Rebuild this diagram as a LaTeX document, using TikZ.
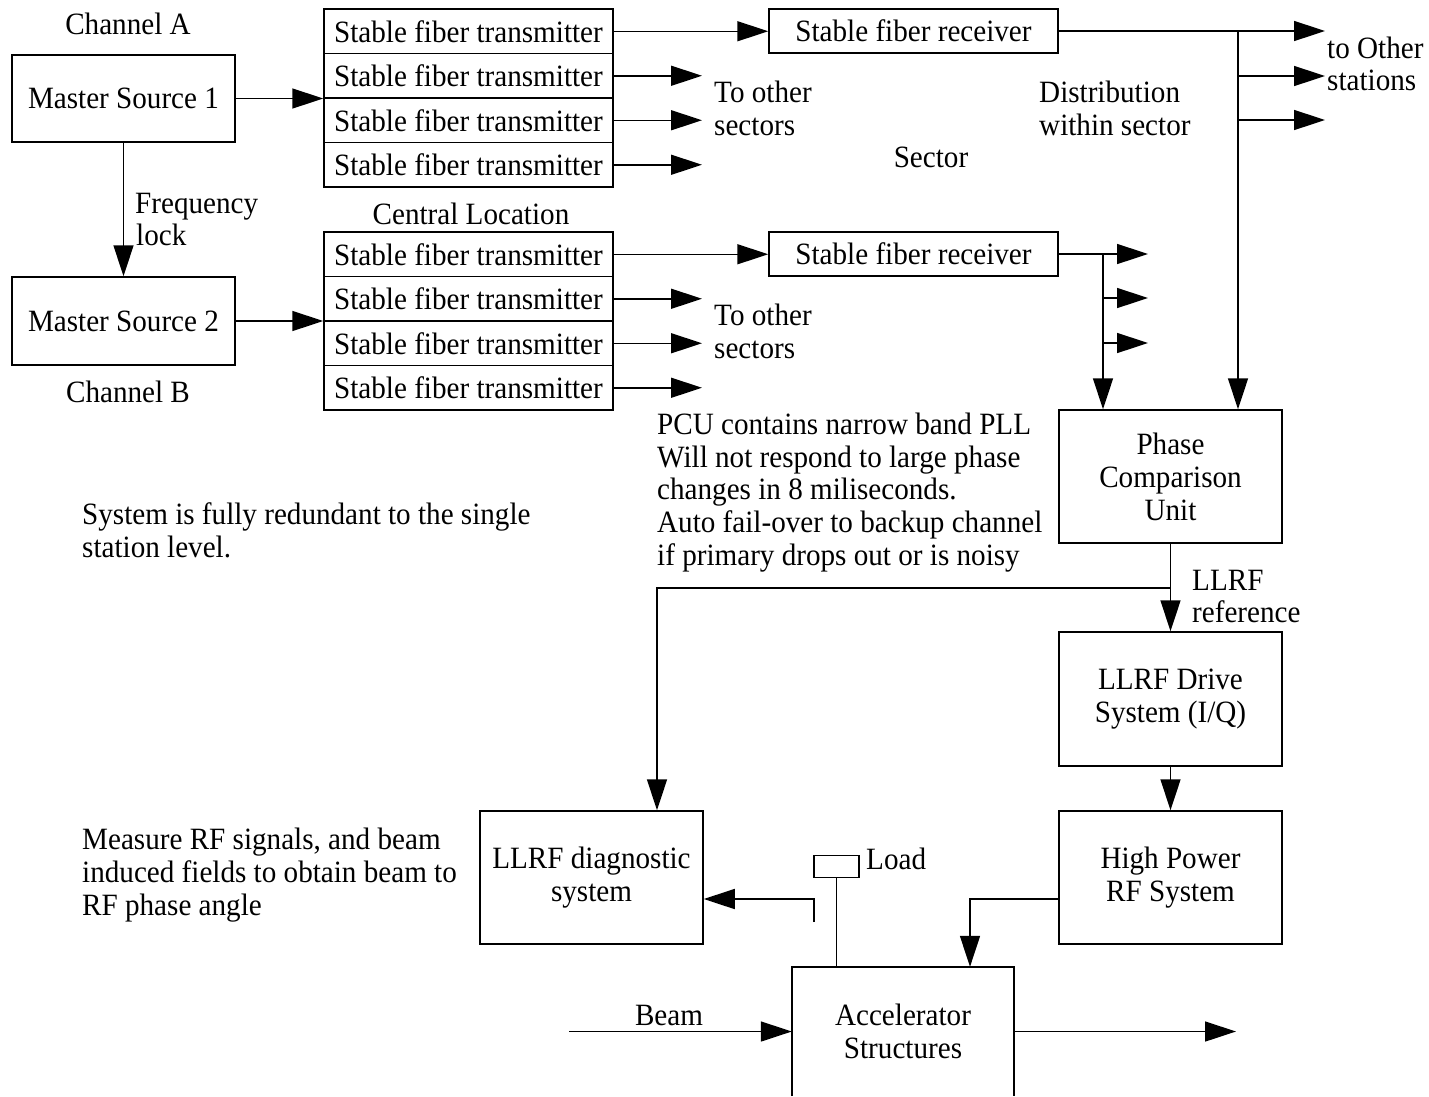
\documentclass[tikz,border=0pt]{standalone}
\usepackage{fontspec}
\setmainfont{Liberation Serif}[FakeStretch=0.94]
\usetikzlibrary{arrows.meta}
\tikzset{
  every node/.style={font=\fontsize{31pt}{33pt}\selectfont},
  box/.style={draw, line width=1.5pt, inner sep=0pt, align=center},
  txbox/.style={box, minimum width=289pt, minimum height=44.5pt},
  bigbox/.style={box, minimum width=223pt},
  lbl/.style={inner sep=0pt, anchor=base west},
  conn/.style={line width=1.5pt},
  arr/.style={conn, -{Triangle[length=31pt,width=20pt]}},
}
\begin{document}
\begin{tikzpicture}[x=1pt,y=-1pt]
\useasboundingbox[fill=white] (0,0) rectangle (1429,1096);
% master sources
\node[bigbox, minimum height=87pt] (ms1) at (123.5,98.5) {Master Source 1};
\node[bigbox, minimum height=88pt] (ms2) at (123.5,321) {Master Source 2};
% transmitter stacks
\node[txbox] (txA1) at (468.5,31.25) {Stable fiber transmitter};
\node[txbox] (txA2) at (468.5,75.75) {Stable fiber transmitter};
\node[txbox] (txA3) at (468.5,120.25) {Stable fiber transmitter};
\node[txbox] (txA4) at (468.5,164.75) {Stable fiber transmitter};
\node[txbox] (txB1) at (468.5,254.25) {Stable fiber transmitter};
\node[txbox] (txB2) at (468.5,298.75) {Stable fiber transmitter};
\node[txbox] (txB3) at (468.5,343.25) {Stable fiber transmitter};
\node[txbox] (txB4) at (468.5,387.75) {Stable fiber transmitter};
% receivers
\node[box, minimum width=289pt, minimum height=44pt] (rxA) at (913.5,31) {Stable fiber receiver};
\node[box, minimum width=289pt, minimum height=44pt] (rxB) at (913.5,254) {Stable fiber receiver};
% station boxes
\node[bigbox, minimum height=133pt] (pcu) at (1170.5,476.5) {Phase\\Comparison\\Unit};
\node[bigbox, minimum height=134pt] (drv) at (1170.5,699) {LLRF Drive\\System (I/Q)};
\node[bigbox, minimum height=133pt] (hp) at (1170.5,877.5) {High Power\\RF System};
\node[bigbox, minimum height=133pt] (diag) at (591.5,877.5) {LLRF diagnostic\\system};
\node[box, minimum width=45pt, minimum height=22pt] (load) at (836.5,866.5) {};
\node[inner sep=0pt, align=center, minimum width=222pt, minimum height=129pt] (acc) at (903,1031.5) {Accelerator\\Structures};
\draw[conn] (acc.south west) -- (acc.north west) -- (acc.north east) -- (acc.south east);
% free ends
\coordinate (eA2) at (702,75.75);
\coordinate (eA3) at (702,120.25);
\coordinate (eA4) at (702,164.75);
\coordinate (eB2) at (702,298.75);
\coordinate (eB3) at (702,343.25);
\coordinate (eB4) at (702,387.75);
\coordinate (dA) at (1238,31);
\coordinate (sA1) at (1325,31);
\coordinate (sA2) at (1325,76);
\coordinate (sA3) at (1325,120);
\coordinate (dB) at (1103,254);
\coordinate (sB1) at (1148,254);
\coordinate (sB2) at (1148,298);
\coordinate (sB3) at (1148,343);
\coordinate (br) at (1170.5,588);
\coordinate (dg) at (657,588);
\coordinate (lf) at (814,922);
\coordinate (bin) at (569,1031.5);
\coordinate (bout) at (1236,1031.5);
% connectors
\draw[arr] (ms1.east) -- (ms1.east -| txA2.west);
\draw[arr] (ms1.south) -- (ms2.north);
\draw[arr] (ms2.east) -- (ms2.east -| txB2.west);
\draw[arr] (txA1.east) -- (txA1.east -| rxA.west);
\draw[arr] (txA2.east) -- (eA2);
\draw[arr] (txA3.east) -- (eA3);
\draw[arr] (txA4.east) -- (eA4);
\draw[arr] (txB1.east) -- (txB1.east -| rxB.west);
\draw[arr] (txB2.east) -- (eB2);
\draw[arr] (txB3.east) -- (eB3);
\draw[arr] (txB4.east) -- (eB4);
\draw[arr] (rxA.east) -- (sA1);
\draw[arr] (dA) -- (dA |- pcu.north);
\draw[arr] (dA |- sA2) -- (sA2);
\draw[arr] (dA |- sA3) -- (sA3);
\draw[arr] (rxB.east) -- (sB1);
\draw[arr] (dB) -- (dB |- pcu.north);
\draw[arr] (dB |- sB2) -- (sB2);
\draw[arr] (dB |- sB3) -- (sB3);
\draw[arr] (pcu.south) -- (drv.north);
\draw[arr] (br) -- (dg) -- (dg |- diag.north);
\draw[arr] (drv.south) -- (hp.north);
\draw[arr] ([yshift=-21.5pt]hp.west) -| ([xshift=67pt]acc.north);
\draw[conn] (load.south) -- (load.south |- acc.north);
\draw[arr] (lf) |- ([yshift=-21.5pt]diag.east);
\draw[arr] (bin) -- (acc.west);
\draw[arr] (acc.east) -- (bout);
% labels
\node[lbl, anchor=base] (chA) at (128,34) {Channel A};
\node[lbl, anchor=base] (chB) at (128,402) {Channel B};
\node[lbl] (fl1) at (135,213) {Frequency};
\node[lbl] (fl2) at (136,245) {lock};
\node[lbl, anchor=base] (cl) at (471,224) {Central Location};
\node[lbl] (toA1) at (714,102) {To other};
\node[lbl] (toA2) at (714,135) {sectors};
\node[lbl] (toB1) at (714,325) {To other};
\node[lbl] (toB2) at (714,358) {sectors};
\node[lbl] (dist1) at (1039,102) {Distribution};
\node[lbl] (dist2) at (1039,135) {within sector};
\node[lbl, anchor=base] (sec) at (931,167) {Sector};
\node[lbl] (toO1) at (1327,58) {to Other};
\node[lbl] (toO2) at (1327,90) {stations};
\node[lbl] (n1) at (657,434) {PCU contains narrow band PLL};
\node[lbl] (n2) at (657,467) {Will not respond to large phase};
\node[lbl] (n3) at (657,499) {changes in 8 miliseconds.};
\node[lbl] (n4) at (657,532) {Auto fail-over to backup channel};
\node[lbl] (n5) at (657,565) {if primary drops out or is noisy};
\node[lbl] (ll1) at (1192,590) {LLRF};
\node[lbl] (ll2) at (1192,622) {reference};
\node[lbl] (red1) at (82,524) {System is fully redundant to the single};
\node[lbl] (red2) at (82,557) {station level.};
\node[lbl] (me1) at (82,849) {Measure RF signals, and beam};
\node[lbl] (me2) at (82,882) {induced fields to obtain beam to};
\node[lbl] (me3) at (82,915) {RF phase angle};
\node[lbl, anchor=base] (beam) at (669,1025) {Beam};
\node[lbl] (loadl) at (866,869) {Load};
\end{tikzpicture}
\end{document}
